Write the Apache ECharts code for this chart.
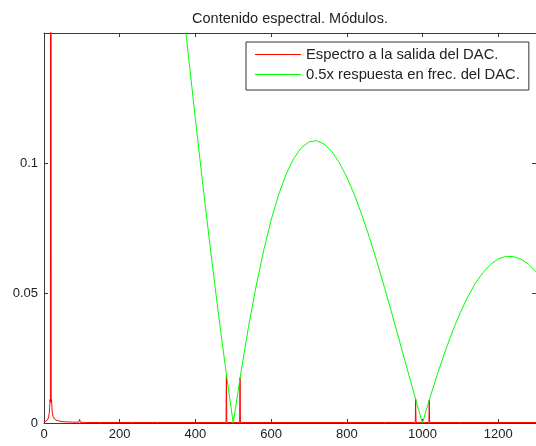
<!DOCTYPE html>
<html>
<head>
<meta charset="utf-8">
<script src="https://cdn.jsdelivr.net/npm/echarts@6/dist/echarts.min.js"></script>
<style>
html,body{margin:0;padding:0;background:#fff;}
#c{width:536px;height:446px;}
</style>
</head>
<body>
<div id="c"></div>
<script>
const titleText = 'Contenido espectral. Módulos.';
const seriesNames = ['Espectro a la salida del DAC.', '0.5x respuesta en frec. del DAC.'];
const seriesColors = ['#ff0000', '#00ff00'];
const xTicks = [0, 200, 400, 600, 800, 1000, 1200];
const yTicks = [0, 0.05, 0.1];

const redFreq = [0, 4, 8, 10, 12, 14, 15, 16, 17, 18, 19, 20, 21, 22, 24, 26, 28, 30, 34, 38, 42, 44, 46, 50, 55, 60, 62, 64, 70, 76, 78, 80, 86, 92, 94, 96, 100, 110, 150, 200, 234, 236, 238, 300, 400, 470, 481, 482, 483, 517, 518, 519, 600, 800, 900, 981, 982, 983, 1017, 1018, 1019, 1100, 1300];
const redMag = [0.0003, 0.0005, 0.001, 0.0015, 0.002, 0.004, 0.006, 0.009, 0.008, 0.5, 0.008, 0.009, 0.006, 0.004, 0.0025, 0.002, 0.0015, 0.0012, 0.001, 0.0008, 0.0007, 0.0012, 0.0006, 0.0005, 0.0005, 0.0004, 0.0009, 0.0004, 0.0004, 0.0003, 0.0009, 0.0003, 0.0003, 0.0003, 0.0014, 0.0003, 0.0002, 0.0002, 0.0002, 0.0002, 0.0002, 0.0006, 0.0002, 0.0002, 0.0002, 0.0002, 0.0002, 0.0187, 0.0002, 0.0002, 0.0174, 0.0002, 0.0002, 0.0002, 0.0002, 0.0002, 0.0092, 0.0002, 0.0002, 0.0088, 0.0002, 0.0002, 0.0002];

const greenFreq = [340, 360, 380, 400, 420, 440, 460, 480, 500, 520, 540, 560, 580, 600, 620, 640, 660, 680, 700, 720, 740, 760, 780, 800, 820, 840, 860, 880, 900, 920, 940, 960, 980, 1000, 1020, 1040, 1060, 1080, 1100, 1120, 1140, 1160, 1180, 1200, 1220, 1240, 1260, 1280, 1300];
const greenMag = [0.1976, 0.1703, 0.1434, 0.1169, 0.0913, 0.0666, 0.0430, 0.0208, 0, 0.0192, 0.0367, 0.0523, 0.0661, 0.0780, 0.0879, 0.0958, 0.1018, 0.1059, 0.1081, 0.1086, 0.1073, 0.1045, 0.1002, 0.0946, 0.0878, 0.0800, 0.0713, 0.0619, 0.0520, 0.0417, 0.0312, 0.0206, 0.0102, 0, 0.0098, 0.0190, 0.0276, 0.0355, 0.0425, 0.0486, 0.0538, 0.0579, 0.0610, 0.0631, 0.0641, 0.0640, 0.0630, 0.0611, 0.0582];

const FONT = '"Liberation Sans", Arial, sans-serif';
const axisColor = '#3a3a3a';
const chart = echarts.init(document.getElementById('c'), null, {renderer: 'canvas'});

function xAxisDef(pos, showLabels) {
  return {
    type: 'value', position: pos, min: 0, max: 1300, interval: 200,
    axisLine: {show: true, onZero: false, lineStyle: {color: axisColor, width: 1}},
    axisTick: {show: true, inside: true, length: 4, lineStyle: {color: axisColor}},
    axisLabel: {show: showLabels, margin: 5, color: '#222', fontSize: 13, fontFamily: FONT, showMaxLabel: false,
      formatter: v => (xTicks.indexOf(v) >= 0 ? String(v) : '')},
    splitLine: {show: false}
  };
}
function yAxisDef(pos, showLabels) {
  return {
    type: 'value', position: pos, min: 0, max: 0.15, interval: 0.05,
    axisLine: {show: true, onZero: false, lineStyle: {color: axisColor, width: 1}},
    axisTick: {show: true, inside: true, length: 4, lineStyle: {color: axisColor}},
    axisLabel: {show: showLabels, margin: 6, color: '#222', fontSize: 13, fontFamily: FONT, showMaxLabel: false,
      formatter: v => (yTicks.indexOf(v) >= 0 ? String(v) : '')},
    splitLine: {show: false}
  };
}

chart.setOption({
  animation: false,
  backgroundColor: '#fff',
  title: {
    text: titleText, left: 285, textAlign: 'center', top: 6,
    textStyle: {fontSize: 14.5, fontWeight: 'normal', color: '#222', fontFamily: FONT}
  },
  legend: {
    data: seriesNames.map((n, i) => ({name: n, icon: 'rect', itemStyle: {color: seriesColors[i], borderWidth: 0}})),
    orient: 'vertical', left: 246, top: 42,
    padding: [5, 9, 8, 9], itemGap: 5, itemWidth: 46, itemHeight: 1,
    backgroundColor: '#fff', borderColor: '#333', borderWidth: 1, borderRadius: 0,
    textStyle: {fontSize: 14.8, color: '#222', fontFamily: FONT}
  },
  grid: {left: 44, top: 33, width: 494, height: 390, containLabel: false},
  xAxis: [xAxisDef('bottom', true), xAxisDef('top', false)],
  yAxis: [yAxisDef('left', true), yAxisDef('right', false)],
  series: [
    {
      name: seriesNames[0], type: 'line', xAxisIndex: 0, yAxisIndex: 0,
      data: redFreq.map((f, i) => [f, redMag[i]]),
      showSymbol: false, symbol: 'none', clip: true,
      lineStyle: {color: seriesColors[0], width: 1}, itemStyle: {color: seriesColors[0]}, z: 2
    },
    {
      name: seriesNames[1], type: 'line', xAxisIndex: 0, yAxisIndex: 0,
      data: greenFreq.map((f, i) => [f, greenMag[i]]),
      showSymbol: false, symbol: 'none', clip: true,
      lineStyle: {color: seriesColors[1], width: 1}, itemStyle: {color: seriesColors[1]}, z: 3
    }
  ]
});
</script>
</body>
</html>
